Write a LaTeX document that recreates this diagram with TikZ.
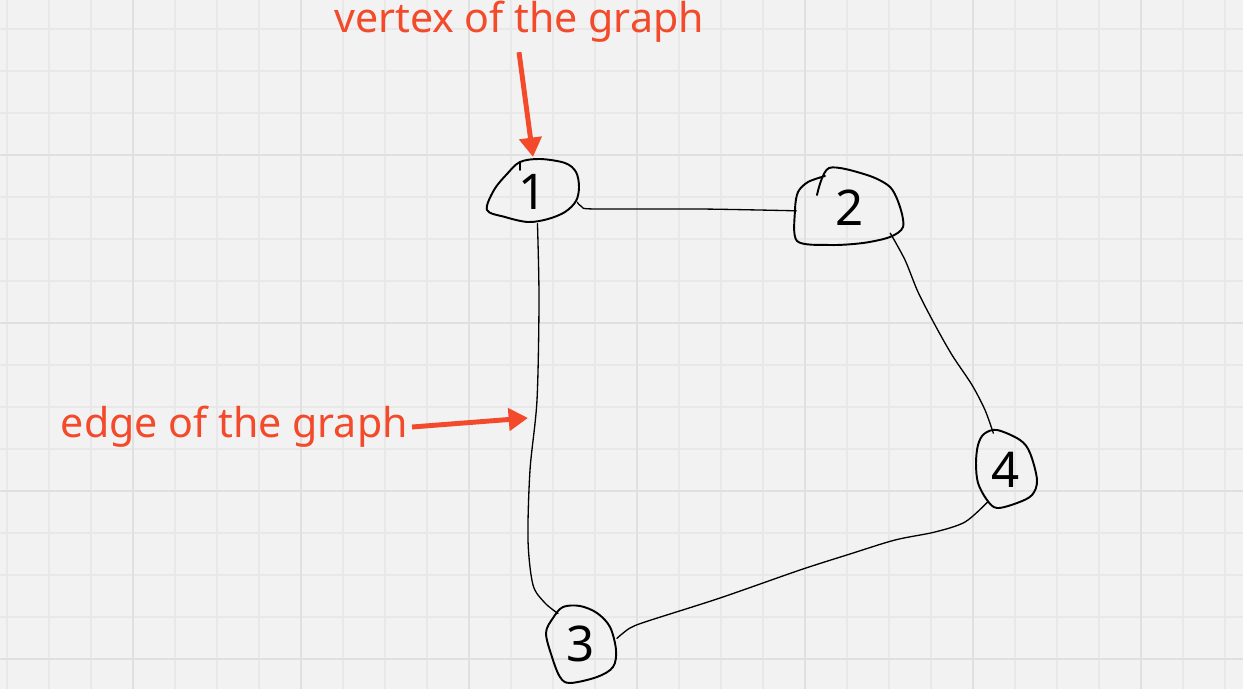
\documentclass[tikz,border=0pt]{standalone}
\usepackage{fontspec}
\setmainfont{Noto Sans}
\usetikzlibrary{arrows.meta,shapes.geometric}
\definecolor{fundo}{HTML}{F2F2F2}
\definecolor{grade}{HTML}{E8E8E8}
\definecolor{gradeforte}{HTML}{E0E0E0}
\definecolor{vermelho}{HTML}{F24A2A}
\tikzset{
	vertice/.style={ellipse, inner sep=0pt, font=\fontsize{28pt}{28pt}\selectfont},
	contorno/.style={line width=1.1pt, line join=round, line cap=round},
	aresta/.style={line width=0.75pt, line cap=round},
	rotulo/.style={text=vermelho, inner sep=0pt, font=\fontsize{23.4pt}{28pt}\selectfont},
	seta/.style={-{Triangle[length=11pt,width=12.5pt]}, vermelho, line width=2.8pt}
}
\begin{document}
\begin{tikzpicture}[x=0.02cm, y=-0.02cm] %Unidade = 1 pixel da imagem
		%Fundo e grade
	\fill[fundo] (0,0) rectangle (1243,689);
	\useasboundingbox (0,0) rectangle (1243,689);
	\foreach \x in {7,49,...,1243} \draw[grade, line width=0.6pt] (\x,0) -- (\x,689);
	\foreach \y in {29,71,...,689} \draw[grade, line width=0.6pt] (0,\y) -- (1243,\y);
	\foreach \x in {133,301,...,1243} \draw[gradeforte, line width=1.1pt] (\x,0) -- (\x,689);
	\foreach \y in {155,323,491,659} \draw[gradeforte, line width=1.1pt] (0,\y) -- (1243,\y);
		%Vertices
	\node[vertice, minimum width=1.86cm, minimum height=1.26cm] (v1) at (533,192) {1};
	\node[vertice, minimum width=2.14cm, minimum height=1.5cm] (v2) at (850,208) {2};
	\node[vertice, minimum width=1.44cm, minimum height=1.56cm] (v3) at (581,644) {3};
	\node[vertice, minimum width=1.22cm, minimum height=1.6cm] (v4) at (1006,470) {4};
		%Contornos feitos a mao
	\draw[contorno] plot[smooth cycle, tension=0.55] coordinates {(520,162) (540,159) (565,163) (576,172) (579,187) (576,201) (565,212) (548,219) (528,222) (505,217) (487,210) (494,190) (507,174)};
	\draw[contorno] (520,170) -- (520,162);
	\draw[contorno] plot[smooth, tension=0.5] coordinates {(817,195) (829,168) (867,175) (890,187) (900,207) (903,227) (890,237) (863,243) (830,245) (797,241) (795,210) (798,192) (808,182) (825,176)};
	\draw[contorno] plot[smooth cycle, tension=0.55] coordinates {(563,607) (580,606) (597,613) (610,627) (616,650) (613,667) (597,677) (570,683) (560,677) (552,657) (546,633) (553,618)};
	\draw[contorno] plot[smooth cycle, tension=0.55] coordinates {(984,434) (997,430) (1020,440) (1030,453) (1037,480) (1032,495) (1017,503) (997,508) (987,500) (978,483) (976,463) (978,445)};
		%Arestas
	\draw[aresta] plot[smooth, tension=0.5] coordinates {(v1.-13) (582,207) (595,209) (700,209) (v2.183)};
	\draw[aresta] plot[smooth, tension=0.5] coordinates {(v1.-82) (539,300) (537,400) (530,470) (528,540) (533,585) (545,603) (v3.127)};
	\draw[aresta] plot[smooth, tension=0.5] coordinates {(v2.-32) (905,260) (918,292) (935,325) (952,355) (972,385) (985,410) (v4.109)};
	\draw[aresta] plot[smooth, tension=0.5] coordinates {(v3.9) (630,628) (648,621) (720,598) (800,570) (850,554) (895,540) (935,532) (965,522) (v4.-120)};
		%Rotulos
	\node[rotulo, anchor=base] (rotvertice) at (519,33) {vertex of the graph};
	\node[rotulo, anchor=east] (rotaresta) at (408,427) {edge of the graph};
	\coordinate (pontavertice) at (533,157);
	\coordinate (pontaaresta) at (528,418);
	\draw[seta] ([yshift=-0.18cm]rotvertice.south) -- (pontavertice);
	\draw[seta] ([xshift=0.08cm]rotaresta.east) -- (pontaaresta);
\end{tikzpicture}
\end{document}
